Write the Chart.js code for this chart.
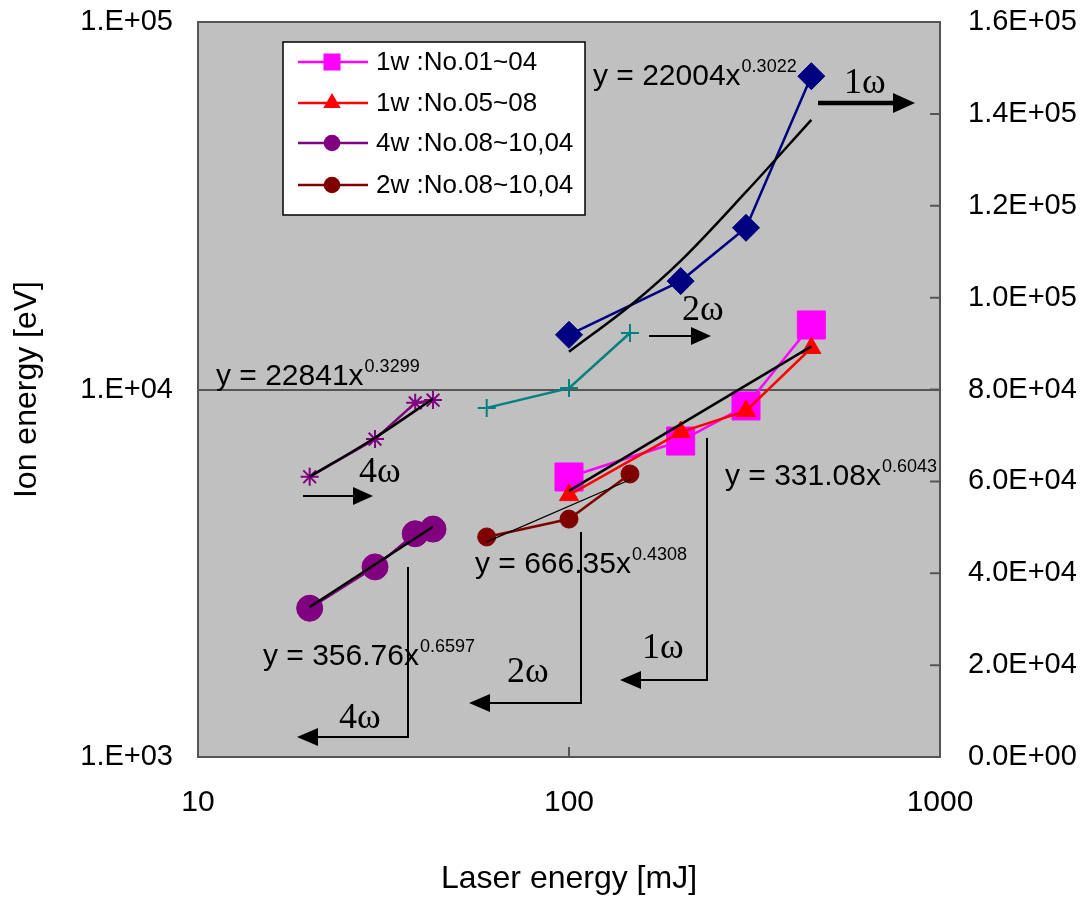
<!DOCTYPE html>
<html>
<head>
<meta charset="utf-8">
<script src="https://cdn.jsdelivr.net/npm/chart.js@4/dist/chart.umd.min.js"></script>
<style>
  body { margin: 0; background: #fff; }
</style>
</head>
<body>
<canvas id="chartIon" width="1084" height="898"></canvas>
<script>
/**
 * Ion energy vs laser energy
 */

// laser energy [mJ]
const energy4w = [20, 30, 38.5, 43]
const energy2w = [60, 100, 146]
const energy1w = [100, 200, 300, 450]

// ion energy [eV] - left axis (log)
const ion1wNo0104 = [5780, 7240, 9020, 14980]
const ion1wNo0508 = [5160, 7660, 8740, 12970]
const ion4w = [2540, 3290, 4050, 4170]
const ion2w = [3970, 4440, 5890]

// right axis (linear)
const right1w = [91900, 103600, 115200, 148200]
const right2w = [76000, 80300, 92300]
const right4w = [61000, 69200, 77100, 77700]

// power fits
const fit1wX = [100, 450], fit1wY = [5300, 13100]
const fit2wX = [60, 147], fit2wY = [3850, 5700]
const fit4wX = [20, 43], fit4wY = [2560, 4230]
const fitR1wX = [100, 150, 200, 300, 450], fitR1wY = [88200, 99000, 108000, 123000, 138700]
const fitR4wX = [20, 30, 43], fitR4wY = [61000, 69500, 78000]

const fitText = ['y = 22004x', 'y = 22841x', 'y = 331.08x', 'y = 666.35x', 'y = 356.76x']
const fitExp = ['0.3022', '0.3299', '0.6043', '0.4308', '0.6597']

const legendNames = ['1w :No.01~04', '1w :No.05~08', '4w :No.08~10,04', '2w :No.08~10,04']

const xTicks = [10, 100, 1000]
const yTicks = [1000, 10000, 100000]

Chart.defaults.font.family = 'Liberation Sans'
Chart.defaults.color = '#000'

const points = (xs, ys) => xs.map((x, i) => ({ x: x, y: ys[i] }))

const sci = v => {
  const [m, e] = Number(v).toExponential(1).split('e')
  return m + 'E' + e[0] + e.slice(1).padStart(2, '0')
}

function fitLine(xs, ys, axis, width, curved) {
  return {
    label: 'fit', data: points(xs, ys), yAxisID: axis, showLine: true,
    borderColor: '#000', borderWidth: width, pointRadius: 0,
    cubicInterpolationMode: curved ? 'monotone' : 'default'
  }
}

function series(label, xs, ys, axis, color, style, radius) {
  return {
    label: label, data: points(xs, ys), yAxisID: axis, showLine: true,
    borderColor: color, backgroundColor: color, borderWidth: 2.5,
    pointStyle: style, pointRadius: radius, pointBorderColor: color,
    pointBackgroundColor: color, pointBorderWidth: (style === 'cross' || style === 'star') ? 2 : 1
  }
}

// reference-space helper for the annotations (plot area 198..940 x 22..757)
const P = (ca, px, py) => [ca.left + (px - 198) * ca.width / 742, ca.top + (py - 22) * ca.height / 735]

function arrow(ctx, pts, lw, head, half) {
  const n = pts.length
  const [tx, ty] = pts[n - 1], [qx, qy] = pts[n - 2]
  const len = Math.hypot(tx - qx, ty - qy), ux = (tx - qx) / len, uy = (ty - qy) / len
  ctx.save()
  ctx.strokeStyle = '#000'
  ctx.fillStyle = '#000'
  ctx.lineWidth = lw
  ctx.lineJoin = 'miter'
  ctx.beginPath()
  ctx.moveTo(pts[0][0], pts[0][1])
  for (let i = 1; i < n - 1; i++) ctx.lineTo(pts[i][0], pts[i][1])
  ctx.lineTo(tx - ux * head * 0.8, ty - uy * head * 0.8)
  ctx.stroke()
  ctx.beginPath()
  ctx.moveTo(tx, ty)
  ctx.lineTo(tx - ux * head - uy * half, ty - uy * head + ux * half)
  ctx.lineTo(tx - ux * head + uy * half, ty - uy * head - ux * half)
  ctx.closePath()
  ctx.fill()
  ctx.restore()
}

function marker(ctx, style, x, y, color) {
  ctx.fillStyle = color
  ctx.beginPath()
  if (style === 'rect') ctx.rect(x - 8.5, y - 8.5, 17, 17)
  else if (style === 'triangle') {
    ctx.moveTo(x, y - 10)
    ctx.lineTo(x + 8.7, y + 5)
    ctx.lineTo(x - 8.7, y + 5)
    ctx.closePath()
  } else ctx.arc(x, y, 8.3, 0, Math.PI * 2)
  ctx.fill()
}

const noEdgePadding = s => { s.paddingTop = 0; s.paddingBottom = 0 }

const frame = {
  id: 'frame',
  beforeDraw(chart) {
    const { ctx, chartArea: ca } = chart
    ctx.save()
    ctx.fillStyle = '#C0C0C0'
    ctx.fillRect(ca.left, ca.top, ca.width, ca.height)
    ctx.restore()
  },
  beforeDatasetsDraw(chart) {
    const { ctx, chartArea: ca, scales } = chart
    ctx.save()
    ctx.strokeStyle = '#555'
    ctx.lineWidth = 2
    ctx.strokeRect(ca.left, ca.top, ca.width, ca.height)
    ctx.beginPath()
    scales.y2.ticks.forEach(t => {
      const yy = scales.y2.getPixelForValue(t.value)
      ctx.moveTo(ca.right - 10, yy)
      ctx.lineTo(ca.right, yy)
    })
    scales.x.ticks.forEach(t => {
      const xx = scales.x.getPixelForValue(t.value)
      ctx.moveTo(xx, ca.bottom - 10)
      ctx.lineTo(xx, ca.bottom)
    })
    ctx.stroke()
    ctx.restore()
  }
}

const notes = {
  id: 'notes',
  afterDatasetsDraw(chart) {
    const { ctx, chartArea: ca } = chart
    ctx.save()
    ctx.fillStyle = '#000'
    ctx.textBaseline = 'alphabetic'
    ctx.textAlign = 'left'

    // fit equations
    const eqPos = [[593, 85], [216, 385], [725, 485], [475, 573], [263, 665]]
    fitText.forEach((t, i) => {
      const [x, y] = P(ca, eqPos[i][0], eqPos[i][1])
      ctx.font = '30px "Liberation Sans"'
      ctx.fillText(t, x, y)
      const w = ctx.measureText(t).width
      ctx.font = '18px "Liberation Sans"'
      ctx.fillText(fitExp[i], x + w + 1, y - 13)
    })

    // harmonic labels
    ctx.font = '36px "Liberation Serif"'
    const om = [['1ω', 844, 93], ['2ω', 682, 320], ['4ω', 359, 482], ['1ω', 642, 658], ['2ω', 507, 682], ['4ω', 339, 728]]
    om.forEach(o => {
      const [x, y] = P(ca, o[1], o[2])
      ctx.fillText(o[0], x, y)
    })
    ctx.restore()

    arrow(ctx, [P(ca, 818, 103), P(ca, 915, 103)], 4.5, 22, 10)
    arrow(ctx, [P(ca, 649, 336), P(ca, 711, 336)], 2, 20, 9)
    arrow(ctx, [P(ca, 303, 496), P(ca, 373, 496)], 2, 20, 9)
    arrow(ctx, [P(ca, 707, 438), P(ca, 707, 680), P(ca, 620, 680)], 2, 21, 9)
    arrow(ctx, [P(ca, 581, 532), P(ca, 581, 703), P(ca, 469, 703)], 2, 21, 9)
    arrow(ctx, [P(ca, 408, 567), P(ca, 408, 737), P(ca, 297, 737)], 2, 21, 9)

    // legend box
    const [bx0, by0] = P(ca, 283, 42), [bx1, by1] = P(ca, 585, 215)
    ctx.save()
    ctx.fillStyle = '#fff'
    ctx.fillRect(bx0, by0, bx1 - bx0, by1 - by0)
    ctx.strokeStyle = '#000'
    ctx.lineWidth = 1.5
    ctx.strokeRect(bx0, by0, bx1 - bx0, by1 - by0)
    const rows = [62, 103, 143, 185]
    legendNames.forEach((name, i) => {
      const ds = chart.data.datasets.find(d => d.label === name)
      const [lx0, ly] = P(ca, 298, rows[i]), [lx1] = P(ca, 368, rows[i]), [mx] = P(ca, 332, rows[i]), [tx] = P(ca, 376, rows[i])
      ctx.strokeStyle = ds.borderColor
      ctx.lineWidth = 2.5
      ctx.beginPath()
      ctx.moveTo(lx0, ly)
      ctx.lineTo(lx1, ly)
      ctx.stroke()
      marker(ctx, ds.pointStyle, mx, ly, ds.borderColor)
      ctx.fillStyle = '#000'
      ctx.font = '26px "Liberation Sans"'
      ctx.textBaseline = 'middle'
      ctx.fillText(name, tx, ly + 1)
    })
    ctx.restore()
  }
}

const graphic = document.getElementById('chartIon')
new Chart(graphic, {
  type: 'scatter',
  data: {
    datasets: [
      fitLine(fit1wX, fit1wY, 'y', 2.5, false),
      fitLine(fit2wX, fit2wY, 'y', 1.2, false),
      fitLine(fit4wX, fit4wY, 'y', 2.5, false),
      fitLine(fitR1wX, fitR1wY, 'y2', 2.5, true),
      fitLine(fitR4wX, fitR4wY, 'y2', 2.5, true),
      series(legendNames[1], energy1w, ion1wNo0508, 'y', '#FF0000', 'triangle', 11),
      series(legendNames[0], energy1w, ion1wNo0104, 'y', '#FF00FF', 'rect', 19.8),
      series(legendNames[2], energy4w, ion4w, 'y', '#800080', 'circle', 13),
      series(legendNames[3], energy2w, ion2w, 'y', '#800000', 'circle', 9),
      series('1w right', energy1w, right1w, 'y2', '#000080', 'rectRot', 13.5),
      series('2w right', energy2w, right2w, 'y2', '#008080', 'cross', 9),
      series('4w right', energy4w, right4w, 'y2', '#800080', 'star', 9)
    ]
  },
  options: {
    responsive: false,
    devicePixelRatio: 1,
    animation: false,
    events: [],
    layout: { padding: { top: 22, left: 0, right: 0, bottom: 0 } },
    plugins: {
      legend: { display: false },
      tooltip: { enabled: false }
    },
    scales: {
      x: {
        type: 'logarithmic', min: 10, max: 1000, position: 'bottom',
        afterBuildTicks: s => { s.ticks = xTicks.map(v => ({ value: v })) },
        afterFit: s => { s.height = 141 },
        ticks: { font: { size: 30 }, padding: 28, maxRotation: 0, autoSkip: false, callback: v => String(v) },
        grid: { display: false, drawTicks: false },
        border: { display: false },
        title: { display: true, text: 'Laser energy [mJ]', font: { size: 32 }, padding: { top: 0, bottom: 0 } }
      },
      y: {
        type: 'logarithmic', min: 1000, max: 100000, position: 'left',
        afterBuildTicks: s => { s.ticks = yTicks.map(v => ({ value: v })) },
        afterFit: s => { s.width = 198; noEdgePadding(s) },
        ticks: { font: { size: 29 }, padding: 25, autoSkip: false, callback: v => '1.E+0' + Math.round(Math.log10(v)) },
        grid: { color: '#555', lineWidth: 2, drawTicks: false },
        border: { display: false },
        title: { display: true, text: 'Ion energy [eV]', font: { size: 32 }, padding: { top: 8, bottom: 0 } }
      },
      y2: {
        type: 'linear', min: 0, max: 160000, position: 'right',
        afterFit: s => { s.width = 144; noEdgePadding(s) },
        ticks: { stepSize: 20000, font: { size: 29 }, padding: 28, autoSkip: false, callback: v => sci(v) },
        grid: { display: false, drawTicks: false },
        border: { display: false }
      }
    }
  },
  plugins: [frame, notes]
})
</script>
</body>
</html>
